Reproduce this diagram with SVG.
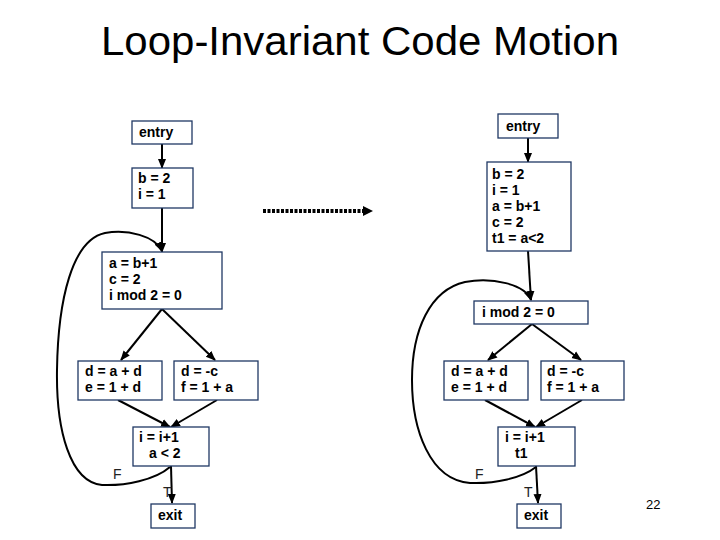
<svg xmlns="http://www.w3.org/2000/svg" width="720" height="540" viewBox="0 0 720 540">
<defs>
<marker id="ah" markerUnits="userSpaceOnUse" markerWidth="10" markerHeight="10" viewBox="0 0 10 10" refX="9" refY="5" orient="auto">
<path d="M0,1 L10,5 L0,9 Z" fill="#000"/>
</marker>
<style>
.box{fill:#fff;stroke:#1f3864;stroke-width:1.3}
.t{font-family:"Liberation Sans",Arial,sans-serif;font-size:14px;font-weight:bold;fill:#000}
.lbl{font-family:"Liberation Sans",Arial,sans-serif;font-size:14px;fill:#222}
.e{fill:none;stroke:#000;stroke-width:2;marker-end:url(#ah)}
</style>
</defs>
<rect width="720" height="540" fill="#fff"/>
<text x="360" y="55" text-anchor="middle" font-family="'Liberation Sans',Arial,sans-serif" font-size="40" textLength="518" lengthAdjust="spacingAndGlyphs">Loop-Invariant Code Motion</text>

<g id="connectors">
<line class="e" x1="162" y1="144" x2="162" y2="168"/>
<line class="e" x1="162" y1="208" x2="162" y2="252"/>
<line class="e" x1="162" y1="309" x2="121" y2="360"/>
<line class="e" x1="162" y1="309" x2="215" y2="360"/>
<line class="e" x1="118" y1="400" x2="170" y2="427"/>
<line class="e" x1="217" y1="400" x2="171" y2="427"/>
<line class="e" x1="171" y1="466" x2="172" y2="503"/>
<path class="e" d="M170,467 C155,480 125,486 102,485 C70,482 56,430 57,370 C58,300 72,240 105,233 C128,229 155,236 162,251"/>

<line class="e" x1="528" y1="138" x2="528" y2="162"/>
<line class="e" x1="528" y1="251" x2="531" y2="300"/>
<line class="e" x1="532" y1="324" x2="488" y2="360"/>
<line class="e" x1="532" y1="324" x2="581" y2="360"/>
<line class="e" x1="485" y1="400" x2="535" y2="427"/>
<line class="e" x1="582" y1="400" x2="536" y2="427"/>
<line class="e" x1="536" y1="466" x2="538" y2="503"/>
<path class="e" d="M536,467 C522,478 495,484 470,483 C430,480 412,430 412,380 C412,330 430,290 465,282 C492,277 525,284 531,300"/>

<line x1="263" y1="211" x2="364" y2="211" stroke="#000" stroke-width="4" stroke-dasharray="3,1.5"/>
<path d="M363,206 L373,211 L363,216 Z" fill="#000"/>
</g>

<g id="L-entry"><rect class="box" x="132" y="121" width="60" height="23"/><text class="t" x="139" y="137">entry</text></g>
<g id="L-b2"><rect class="box" x="132" y="168" width="61" height="40"/><text class="t" x="138" y="183">b = 2</text><text class="t" x="138" y="199">i = 1</text></g>
<g id="L-amod"><rect class="box" x="102" y="252" width="120" height="57"/><text class="t" x="109" y="268">a = b+1</text><text class="t" x="109" y="284">c = 2</text><text class="t" x="109" y="300">i mod 2 = 0</text></g>
<g id="L-dad"><rect class="box" x="78" y="361" width="84" height="39"/><text class="t" x="85" y="376">d = a + d</text><text class="t" x="85" y="392">e = 1 + d</text></g>
<g id="L-dc"><rect class="box" x="174" y="361" width="84" height="39"/><text class="t" x="181" y="376">d = -c</text><text class="t" x="181" y="392">f = 1 + a</text></g>
<g id="L-inc"><rect class="box" x="133" y="427" width="76" height="39"/><text class="t" x="139" y="442">i = i+1</text><text class="t" x="149" y="458">a &lt; 2</text></g>
<g id="L-exit"><rect class="box" x="151" y="504" width="44" height="24"/><text class="t" x="158" y="520">exit</text></g>
<text class="lbl" x="113" y="479">F</text>
<text class="lbl" x="163" y="497">T</text>

<g id="R-entry"><rect class="box" x="498" y="114" width="60" height="24"/><text class="t" x="506" y="131">entry</text></g>
<g id="R-b2"><rect class="box" x="487" y="162" width="84" height="89"/><text class="t" x="492" y="179">b = 2</text><text class="t" x="492" y="195">i = 1</text><text class="t" x="492" y="211">a = b+1</text><text class="t" x="492" y="227">c = 2</text><text class="t" x="492" y="243">t1 = a&lt;2</text></g>
<g id="R-mod"><rect class="box" x="474" y="301" width="114" height="23"/><text class="t" x="482" y="317">i mod 2 = 0</text></g>
<g id="R-dad"><rect class="box" x="444" y="361" width="84" height="39"/><text class="t" x="451" y="376">d = a + d</text><text class="t" x="451" y="392">e = 1 + d</text></g>
<g id="R-dc"><rect class="box" x="541" y="361" width="83" height="39"/><text class="t" x="547" y="376">d = -c</text><text class="t" x="547" y="392">f = 1 + a</text></g>
<g id="R-inc"><rect class="box" x="498" y="427" width="77" height="39"/><text class="t" x="505" y="442">i = i+1</text><text class="t" x="515" y="458">t1</text></g>
<g id="R-exit"><rect class="box" x="517" y="504" width="44" height="24"/><text class="t" x="524" y="520">exit</text></g>
<text class="lbl" x="475" y="479">F</text>
<text class="lbl" x="524" y="497">T</text>

<text x="646" y="509" font-family="'Liberation Sans',Arial,sans-serif" font-size="13">22</text>
</svg>
